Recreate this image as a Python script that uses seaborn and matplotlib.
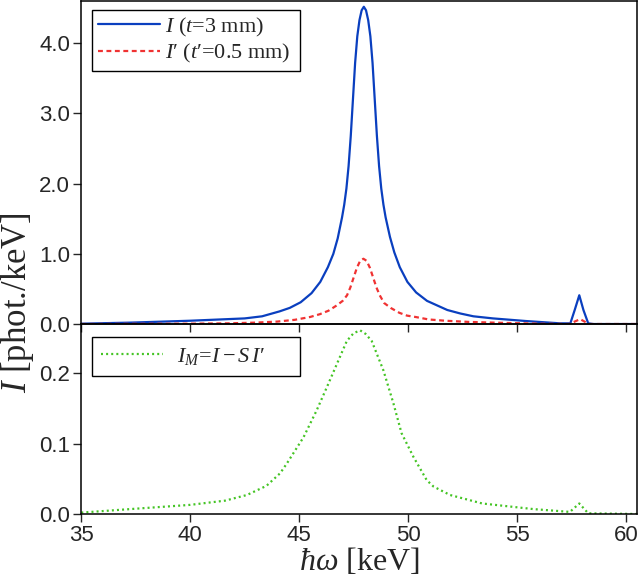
import numpy as np
import pandas as pd
import seaborn as sns
import matplotlib.pyplot as plt

# spectrum (keV, phot./keV)
x_I = [35.0, 37.25, 40.0, 42.5, 43.3, 44.1, 44.57, 45.07, 45.57, 45.97, 46.32, 46.57,
       46.77, 46.97, 47.07, 47.17, 47.27, 47.37, 47.47, 47.57, 47.67, 47.77, 47.87,
       47.97, 48.07, 48.17, 48.27, 48.37, 48.47, 48.57, 48.67, 48.77, 48.87, 48.97,
       49.17, 49.37, 49.62, 49.97, 50.37, 50.87, 51.37, 51.8, 52.4, 53.0, 53.9, 55.4,
       56.97, 57.45, 57.65, 57.86, 58.05, 58.27, 58.5, 60.5]
y_I = [0.005, 0.02, 0.047, 0.08, 0.11, 0.18, 0.23, 0.31, 0.44, 0.6, 0.81, 1.0,
       1.22, 1.52, 1.7, 1.93, 2.25, 2.68, 3.2, 3.72, 4.1, 4.33, 4.47,
       4.52, 4.47, 4.33, 4.1, 3.72, 3.2, 2.68, 2.25, 1.93, 1.7, 1.52,
       1.24, 1.02, 0.81, 0.6, 0.45, 0.33, 0.26, 0.2, 0.15, 0.11, 0.08, 0.043,
       0.01, 0.01, 0.2, 0.41, 0.2, 0.01, 0.0, 0.0]

x_Ip = [35.0, 40.0, 41.8, 43.0, 44.0, 44.8, 45.5, 45.95, 46.35, 46.7, 47.0, 47.2, 47.35,
        47.5, 47.65, 47.8, 47.95, 48.1, 48.25, 48.4, 48.55, 48.7, 48.9, 49.2, 49.6,
        49.95, 50.35, 50.95, 51.7, 52.8, 53.9, 55.9, 57.4, 57.9, 58.3, 60.5]
y_Ip = [0.0, 0.005, 0.01, 0.02, 0.035, 0.06, 0.1, 0.14, 0.19, 0.26, 0.33, 0.41, 0.52,
        0.66, 0.8, 0.9, 0.93, 0.9, 0.8, 0.66, 0.52, 0.41, 0.3, 0.23, 0.16,
        0.12, 0.1, 0.065, 0.047, 0.03, 0.02, 0.005, 0.0, 0.07, 0.0, 0.0]

x_IM = [35.0, 37.25, 40.0, 41.6, 42.6, 43.5, 44.13, 44.44, 45.2, 45.8, 46.27, 46.73,
        47.19, 47.5, 47.8, 48.05, 48.33, 48.87, 49.33, 49.7, 50.25, 50.86, 51.17,
        51.93, 53.4, 55.75, 57.43, 57.86, 58.27, 60.5]
y_IM = [0.002, 0.007, 0.013, 0.019, 0.027, 0.04, 0.058, 0.072, 0.109, 0.147, 0.18, 0.213,
        0.246, 0.257, 0.261, 0.256, 0.246, 0.204, 0.157, 0.115, 0.081, 0.048, 0.039,
        0.027, 0.015, 0.007, 0.003, 0.015, 0.001, 0.0]

sns.set_style("ticks")
plt.rcParams['font.family'] = ['Liberation Sans', 'DejaVu Sans']
plt.rcParams['mathtext.fontset'] = 'custom'
plt.rcParams['mathtext.rm'] = 'Liberation Serif'
plt.rcParams['mathtext.it'] = 'Liberation Serif:italic'
plt.rcParams['xtick.direction'] = 'out'
plt.rcParams['ytick.direction'] = 'out'

serif = ['Liberation Serif', 'DejaVu Serif']

fig = plt.figure(figsize=(6.4, 5.78), dpi=100)
ax1 = fig.add_axes([0.127, 0.4394, 0.868, 0.5586])
ax2 = fig.add_axes([0.127, 0.1107, 0.868, 0.3287], sharex=ax1)
ax2.patch.set_visible(False)

sns.lineplot(x=x_I, y=y_I, ax=ax1, color='#0a3fbf', lw=1.6,
             label="$I$ ($t$=3 mm)")
sns.lineplot(x=x_Ip, y=y_Ip, ax=ax1, color='#f03232', lw=1.6, linestyle=(0, (2.2, 1.6)),
             label="$I$\u2032 ($t$\u2032=0.5 mm)")
sns.lineplot(x=x_IM, y=y_IM, ax=ax2, color='#44c424', lw=1.6, linestyle=(0, (0.9, 1.4)),
             label="$I_M\\!=\\!I - S\\,I$\u2032")

ax1.set_xlim(35, 60.5)
ax1.set_ylim(0, 4.6)
ax1.set_yticks([0.0, 1.0, 2.0, 3.0, 4.0])
ax1.set_yticklabels(['0.0', '1.0', '2.0', '3.0', '4.0'])
ax2.set_ylim(0, 0.27)
ax2.set_yticks([0.0, 0.1, 0.2])
ax2.set_yticklabels(['0.0', '0.1', '0.2'])
ax2.set_xticks([35, 40, 45, 50, 55, 60])

ax1.tick_params(axis='x', labelbottom=False, length=6, width=1)
ax1.tick_params(axis='y', labelsize=16, length=6, width=1, pad=2)
ax2.tick_params(labelsize=16, length=6, width=1, pad=2)

for ax in (ax1, ax2):
    for s in ax.spines.values():
        s.set_visible(True)
        s.set_linewidth(1.1)
        s.set_color('black')
    ax.set_xlabel('')
    ax.set_ylabel('')

leg1 = ax1.legend(loc='upper left', bbox_to_anchor=(0.0198, 0.972, 0.374, 0.0), mode='expand',
                  prop={'family': serif, 'size': 16}, fancybox=False, framealpha=1,
                  edgecolor='black', handlelength=2.8, borderpad=0.25, labelspacing=0.15,
                  handletextpad=0.2, borderaxespad=0)
leg1.get_frame().set_linewidth(1.0)
leg2 = ax2.legend(loc='upper left', bbox_to_anchor=(0.0198, 0.93, 0.374, 0.0), mode='expand',
                  prop={'family': serif, 'size': 16}, fancybox=False, framealpha=1,
                  edgecolor='black', handlelength=2.8, borderpad=0.4,
                  handletextpad=0.6, borderaxespad=0)
leg2.get_frame().set_linewidth(1.0)

ax2.set_xlabel("$\\hbar\\omega$ [keV]", family=serif, fontsize=23, labelpad=0)
fig.text(0.027, 0.477, "$I$ [phot./keV]", family=serif, fontsize=25, rotation=90,
         ha='center', va='center')

fig.savefig('out.png', dpi=100)
